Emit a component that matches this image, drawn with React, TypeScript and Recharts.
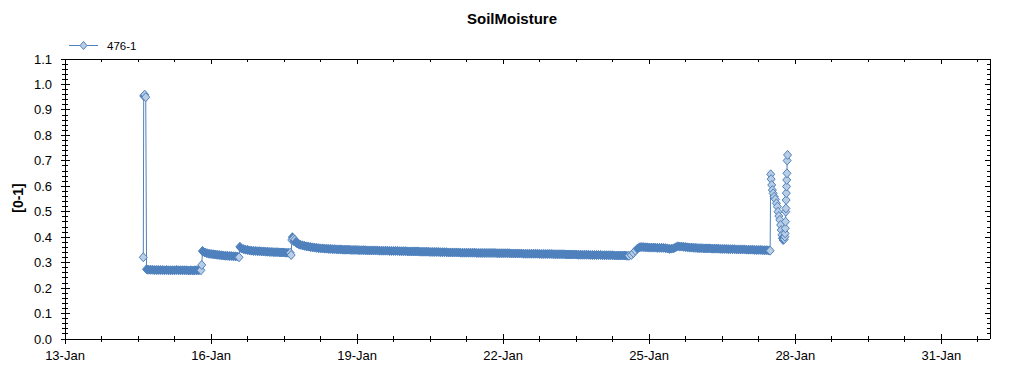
import { LineChart, Line, XAxis, YAxis, Legend, Label, ReferenceLine } from 'recharts';

const TITLE = 'SoilMoisture';
const SERIES_NAME = '476-1';
const Y_TITLE = '[0-1]';
const MONTHS = ['Jan', 'Feb', 'Mar'];
const ORIGIN = Date.UTC(2015, 0, 13); // 13-Jan 00:00, x values are hours from here
const HOUR = 3600 * 1000;

const X_MAX = 456; // 1-Feb
const X_LABEL_STEP = 72; // every 3 days
const X_MINOR_STEP = 18;
const Y_MAX = 1.1;

// sensor readings: [hour, value] for sparse parts, hourly runs for the flat parts
const firstSpike = [[38.6, 0.321], [38.8, 0.955], [39.3, 0.96], [39.8, 0.95], [40.2, 0.274]];
const bandA = [
  0.272, 0.272, 0.272, 0.271, 0.271, 0.271, 0.271, 0.271, 0.27, 0.271,
  0.27, 0.27, 0.27, 0.27, 0.271, 0.27, 0.27, 0.27, 0.27, 0.27,
  0.269, 0.27, 0.269, 0.27, 0.27, 0.27, 0.27,
];
const stepA = [[67.4, 0.291], [67.8, 0.346]];
const bandB = [
  0.343, 0.34, 0.337, 0.335, 0.334, 0.333, 0.332, 0.331, 0.33, 0.329,
  0.328, 0.327, 0.327, 0.326, 0.326, 0.325, 0.325, 0.324,
];
const stepB = [[85.8, 0.321], [86.2, 0.362]];
const bandC = [
  0.356, 0.353, 0.351, 0.35, 0.348, 0.347, 0.346, 0.346, 0.345, 0.345,
  0.344, 0.344, 0.343, 0.343, 0.342, 0.342, 0.341, 0.341, 0.341, 0.34,
  0.34, 0.34, 0.339, 0.339, 0.339,
];
const clusterC = [
  [111.5, 0.33], [111.8, 0.389], [112.1, 0.4], [112.5, 0.394], [112.9, 0.384],
  [113.3, 0.39], [113.8, 0.381], [114.4, 0.376], [115.1, 0.373],
];
const bandE = [
  0.37, 0.368, 0.366, 0.364, 0.363, 0.361, 0.36, 0.359, 0.358, 0.357, 0.356, 0.356,
  0.355, 0.355, 0.354, 0.354, 0.353, 0.353, 0.352, 0.352, 0.352, 0.351, 0.351, 0.351,
  0.351, 0.35, 0.35, 0.35, 0.35, 0.349, 0.349, 0.349, 0.349, 0.348, 0.348, 0.348,
  0.348, 0.348, 0.348, 0.347, 0.347, 0.347, 0.347, 0.347, 0.346, 0.346, 0.346, 0.346,
  0.346, 0.345, 0.345, 0.345, 0.345, 0.344, 0.344, 0.344, 0.344, 0.344, 0.344, 0.343,
  0.343, 0.343, 0.343, 0.343, 0.342, 0.342, 0.342, 0.342, 0.342, 0.341, 0.341, 0.341,
  0.341, 0.34, 0.34, 0.34, 0.34, 0.34, 0.34, 0.339, 0.339, 0.339, 0.339, 0.339,
  0.339, 0.339, 0.339, 0.338, 0.338, 0.338, 0.338, 0.338, 0.338, 0.338, 0.338, 0.338,
  0.338, 0.337, 0.337, 0.337, 0.337, 0.337, 0.337, 0.337, 0.336, 0.336, 0.336, 0.336,
  0.336, 0.336, 0.335, 0.335, 0.335, 0.335, 0.335, 0.335, 0.335, 0.335, 0.334, 0.334,
  0.334, 0.334, 0.334, 0.334, 0.334, 0.333, 0.333, 0.333, 0.333, 0.333, 0.333, 0.332,
  0.332, 0.332, 0.332, 0.332, 0.332, 0.331, 0.331, 0.331, 0.331, 0.331, 0.331, 0.33,
  0.33, 0.33, 0.33, 0.33, 0.33, 0.329, 0.329, 0.329, 0.329, 0.329, 0.329, 0.328,
  0.328, 0.328, 0.328, 0.328, 0.328, 0.327, 0.327,
];
const riseE = [[279.2, 0.33], [280.2, 0.338], [281.2, 0.347], [282.2, 0.355], [283.2, 0.36]];
const bandF = [
  0.361, 0.361, 0.36, 0.36, 0.359, 0.359, 0.359, 0.359, 0.358, 0.358, 0.358, 0.358,
  0.357, 0.356, 0.354, 0.355, 0.356, 0.36, 0.364, 0.363, 0.363, 0.362, 0.361, 0.36,
  0.359, 0.359, 0.358, 0.358, 0.357, 0.357, 0.357, 0.356, 0.356, 0.356, 0.356, 0.355,
  0.355, 0.355, 0.355, 0.354, 0.354, 0.354, 0.354, 0.353, 0.353, 0.353, 0.353, 0.352,
  0.352, 0.352, 0.352, 0.352, 0.351, 0.351, 0.351, 0.351, 0.35, 0.35, 0.35, 0.35,
  0.349, 0.349, 0.349, 0.348,
];
const lastSpikes = [
  [347.6, 0.347], [347.9, 0.647], [348.1, 0.628], [348.4, 0.605], [348.7, 0.585],
  [349.1, 0.572], [349.6, 0.559], [350.2, 0.549], [350.7, 0.533], [351.2, 0.52],
  [351.5, 0.5], [351.9, 0.483], [352.4, 0.468], [352.8, 0.448], [353.1, 0.428],
  [353.4, 0.409], [353.7, 0.396], [354.0, 0.389], [354.6, 0.392], [354.9, 0.402],
  [355.0, 0.415], [355.1, 0.435], [355.2, 0.461], [355.3, 0.5], [355.4, 0.513],
  [355.5, 0.546], [355.6, 0.573], [355.7, 0.599], [355.8, 0.625], [355.9, 0.651],
  [356.0, 0.701], [356.2, 0.723],
];

type Pt = { h: number; v: number };
const pairs = (list: number[][]): Pt[] => list.map(([h, v]) => ({ h, v }));
const run = (start: number, values: number[]): Pt[] => values.map((v, i) => ({ h: start + i, v }));

const DATA: Pt[] = [
  ...pairs(firstSpike),
  ...run(41, bandA),
  ...pairs(stepA),
  ...run(68, bandB),
  ...pairs(stepB),
  ...run(87, bandC),
  ...pairs(clusterC),
  ...run(116, bandE),
  ...pairs(riseE),
  ...run(284, bandF),
  ...pairs(lastSpikes),
];

const X_TICKS = Array.from({ length: Math.floor(X_MAX / X_MINOR_STEP) + 1 }, (_, i) => i * X_MINOR_STEP);
const Y_TICKS = Array.from({ length: 56 }, (_, i) => (i * 2) / 100);

const FONT = '"Liberation Sans", Arial, sans-serif';
const BLUE = '#4f81bd';
const PALE = '#b9cde5';

// plot box: left 65, right 990, top 59, bottom 339
const MARGIN = { top: 59, right: 34, bottom: 35, left: 64 };
const PLOT_W = 925;
const PLOT_H = 280;

const fmtDay = (h: number) => {
  const d = new Date(ORIGIN + h * HOUR);
  return `${d.getUTCDate()}-${MONTHS[d.getUTCMonth()]}`;
};
const isMajorY = (v: number) => Math.round(v * 100) % 10 === 0;

// bottom ticks cross the axis; the mirrored tick on the top frame points inward
const BottomTick = (props: any) => {
  const { x, y, payload } = props;
  const major = payload.value % X_LABEL_STEP === 0;
  const len = major ? 5 : 3;
  return (
    <g>
      <line x1={x} x2={x} y1={y - len} y2={y + len} stroke="#000" shapeRendering="crispEdges" />
      <line x1={x} x2={x} y1={y - PLOT_H} y2={y - PLOT_H + len} stroke="#000" shapeRendering="crispEdges" />
      {major && (
        <text x={x} y={y + 21} textAnchor="middle" fontSize={13} fontFamily={FONT} fill="#000">
          {fmtDay(payload.value)}
        </text>
      )}
    </g>
  );
};

const LeftTick = (props: any) => {
  const { x, y, payload } = props;
  const major = isMajorY(payload.value);
  const len = major ? 5 : 3;
  return (
    <g>
      <line x1={x - (major ? 4 : 3)} x2={x + len} y1={y} y2={y} stroke="#000" shapeRendering="crispEdges" />
      <line x1={x + PLOT_W - len} x2={x + PLOT_W} y1={y} y2={y} stroke="#000" shapeRendering="crispEdges" />
      {major && (
        <text x={x - 13} y={y + 4.5} textAnchor="end" fontSize={13} fontFamily={FONT} fill="#000">
          {payload.value.toFixed(1)}
        </text>
      )}
    </g>
  );
};

const diamond = (cx: number, cy: number, w: number, h: number) =>
  `M${cx},${cy - h}L${cx + w},${cy}L${cx},${cy + h}L${cx - w},${cy}Z`;

// points packed close to the next one read as a solid blue band
const renderDot = (props: any) => {
  const { cx, cy, index } = props;
  const p = DATA[index];
  const n = DATA[index + 1];
  const solid = !!n && n.h - p.h <= 1.05 && Math.abs(n.v - p.v) < 0.008;
  return (
    <path key={`dot-${index}`} d={diamond(cx, cy, 4, 4.5)} fill={solid ? BLUE : PALE} stroke={BLUE} strokeWidth={1} />
  );
};

const renderLegend = () => (
  <svg width={120} height={20} style={{ display: 'block' }}>
    <line x1={4} x2={33} y1={10.5} y2={10.5} stroke={BLUE} />
    <path d={diamond(18.5, 10.5, 3.5, 4)} fill={PALE} stroke={BLUE} />
    <text x={42} y={15} fontSize={11.5} fontFamily={FONT} fill="#000">
      {SERIES_NAME}
    </text>
  </svg>
);

const renderYTitle = () => (
  <text
    x={18}
    y={198}
    transform="rotate(-90 18 198)"
    textAnchor="middle"
    dominantBaseline="central"
    fontSize={14}
    fontWeight="bold"
    fontFamily={FONT}
    fill="#000"
  >
    {Y_TITLE}
  </text>
);

const axisLine = { stroke: '#000', shapeRendering: 'crispEdges' };

export default function App() {
  return (
    <div style={{ position: 'absolute', left: 0, top: 0, width: 1024, height: 375, background: '#fff', fontFamily: FONT }}>
      <div
        style={{
          position: 'absolute',
          top: 11,
          left: 0,
          width: 1024,
          textAlign: 'center',
          fontSize: 15,
          lineHeight: '15px',
          fontWeight: 'bold',
        }}
      >
        {TITLE}
      </div>
      <LineChart width={1024} height={375} data={DATA} margin={MARGIN}>
        <XAxis
          xAxisId="b"
          dataKey="h"
          type="number"
          domain={[0, X_MAX]}
          ticks={X_TICKS}
          interval={0}
          height={1}
          tickSize={0}
          tickMargin={0}
          tickLine={false}
          axisLine={axisLine}
          tick={<BottomTick />}
        />
        <YAxis
          yAxisId="l"
          type="number"
          domain={[0, Y_MAX]}
          ticks={Y_TICKS}
          interval={0}
          width={1}
          tickSize={0}
          tickMargin={0}
          tickLine={false}
          axisLine={axisLine}
          tick={<LeftTick />}
        >
          <Label content={renderYTitle} />
        </YAxis>
        <ReferenceLine xAxisId="b" yAxisId="l" y={Y_MAX} stroke="#000" shapeRendering="crispEdges" />
        <ReferenceLine xAxisId="b" yAxisId="l" x={X_MAX} stroke="#000" shapeRendering="crispEdges" />
        <Legend
          layout="horizontal"
          verticalAlign="middle"
          align="center"
          wrapperStyle={{ top: 35, left: 65, width: 120, height: 20 }}
          content={renderLegend}
        />
        <Line
          xAxisId="b"
          yAxisId="l"
          type="linear"
          dataKey="v"
          name={SERIES_NAME}
          stroke={BLUE}
          strokeWidth={1}
          dot={renderDot}
          activeDot={false}
          isAnimationActive={false}
        />
      </LineChart>
    </div>
  );
}
